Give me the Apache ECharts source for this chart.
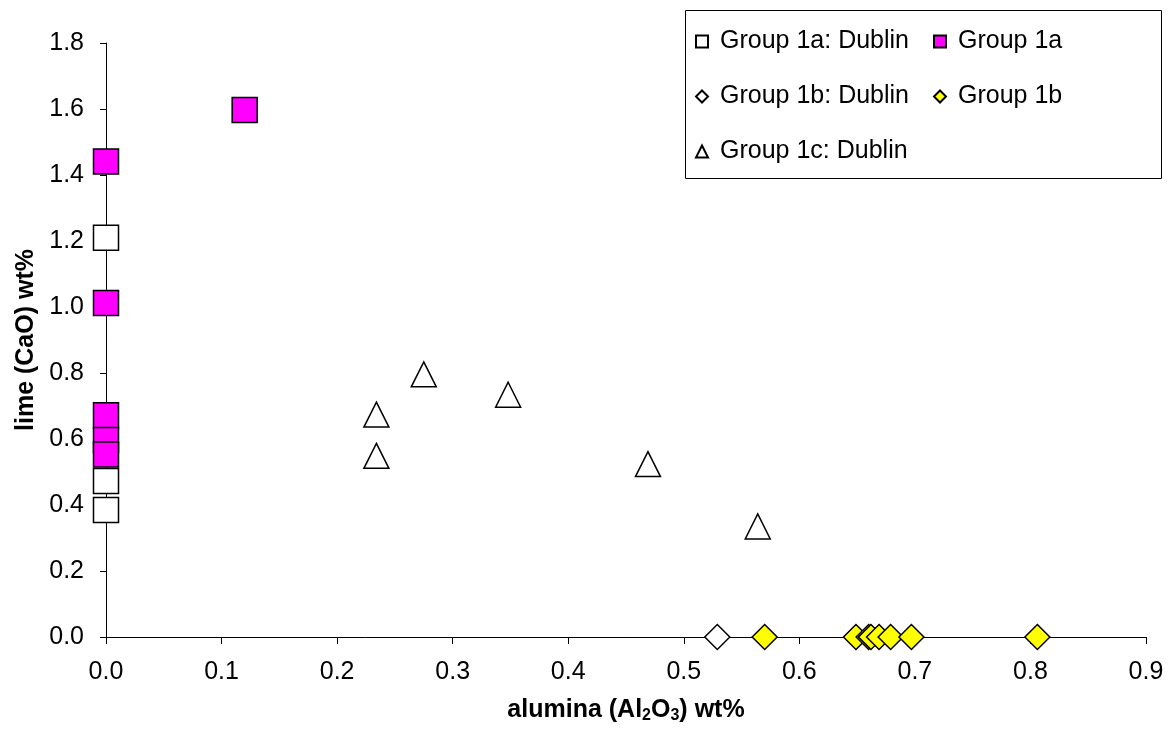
<!DOCTYPE html>
<html>
<head>
<meta charset="utf-8">
<script src="https://cdn.jsdelivr.net/npm/echarts@6/dist/echarts.min.js"></script>
<style>
html,body{margin:0;padding:0;background:#fff;}
#chart{width:1168px;height:729px;}
</style>
</head>
<body>
<div id="chart"></div>
<script>
// Data
const seriesNames = ['Group 1a: Dublin', 'Group 1a', 'Group 1b: Dublin', 'Group 1b', 'Group 1c: Dublin'];
const g1aDublinX = [0, 0, 0];
const g1aDublinY = [1.21, 0.473, 0.385];
const g1aX = [0.12, 0, 0, 0, 0, 0];
const g1aY = [1.597, 1.441, 1.012, 0.672, 0.597, 0.553];
const g1bDublinX = [0.529];
const g1bDublinY = [0];
const g1bX = [0.570, 0.649, 0.660, 0.662, 0.669, 0.679, 0.697, 0.806];
const g1bY = [0, 0, 0, 0, 0, 0, 0, 0];
const g1cDublinX = [0.234, 0.234, 0.275, 0.348, 0.469, 0.564];
const g1cDublinY = [0.549, 0.674, 0.796, 0.734, 0.524, 0.335];
const xTicks = [0, 0.1, 0.2, 0.3, 0.4, 0.5, 0.6, 0.7, 0.8, 0.9];
const yTicks = [0, 0.2, 0.4, 0.6, 0.8, 1.0, 1.2, 1.4, 1.6, 1.8];

const pair = (xs, ys) => xs.map((x, i) => [x, ys[i]]);
const FONT = '"Liberation Sans", Arial, sans-serif';

const chart = echarts.init(document.getElementById('chart'), null, {renderer: 'canvas'});

function mk(name, xs, ys, symbol, fill) {
  return {
    name: name,
    type: 'scatter',
    data: pair(xs, ys),
    symbol: symbol,
    symbolSize: 25,
    itemStyle: {color: fill, borderColor: '#000', borderWidth: 1.5, opacity: 1},
    emphasis: {disabled: true}
  };
}

const legendBase = {
  orient: 'vertical',
  itemWidth: 12,
  itemHeight: 12,
  itemGap: 30,
  textStyle: {fontFamily: FONT, fontSize: 25, color: '#000', padding: [0, 0, 0, 7]},
  selectedMode: false
};

chart.setOption({
  backgroundColor: '#fff',
  animation: false,
  textStyle: {fontFamily: FONT},
  grid: {left: 106, right: 22, top: 43, bottom: 91, containLabel: false},
  xAxis: {
    type: 'value',
    min: xTicks[0], max: xTicks[xTicks.length - 1], interval: 0.1,
    name: 'alumina (Al{sub|2}O{sub|3}) wt%',
    nameLocation: 'middle',
    nameGap: 59,
    nameTextStyle: {
      fontFamily: FONT, fontSize: 25, fontWeight: 'bold', color: '#000',
      rich: {sub: {fontFamily: FONT, fontSize: 16, fontWeight: 'bold', color: '#000', verticalAlign: 'bottom', padding: [12, 0, 0, 0]}}
    },
    axisLine: {lineStyle: {color: '#000', width: 1}},
    axisTick: {show: true, inside: false, length: 7, lineStyle: {color: '#000'}},
    axisLabel: {fontFamily: FONT, fontSize: 25, color: '#000', margin: 23, formatter: v => v.toFixed(1)},
    splitLine: {show: false}
  },
  yAxis: {
    type: 'value',
    min: yTicks[0], max: yTicks[yTicks.length - 1], interval: 0.2,
    name: 'lime (CaO) wt%',
    nameLocation: 'middle',
    nameGap: 54,
    nameTextStyle: {fontFamily: FONT, fontSize: 25, fontWeight: 'bold', color: '#000'},
    axisLine: {show: true, lineStyle: {color: '#000', width: 1}},
    axisTick: {show: true, inside: false, length: 6, lineStyle: {color: '#000'}},
    axisLabel: {fontFamily: FONT, fontSize: 25, color: '#000', margin: 22, formatter: v => v.toFixed(1)},
    splitLine: {show: false}
  },
  legend: [
    Object.assign({}, legendBase, {left: 690, top: 24, data: [seriesNames[0], seriesNames[2], seriesNames[4]]}),
    Object.assign({}, legendBase, {left: 928, top: 24, data: [seriesNames[1], seriesNames[3]]})
  ],
  graphic: [{
    type: 'rect',
    shape: {x: 685.5, y: 10.5, width: 476, height: 168},
    style: {fill: 'rgba(0,0,0,0)', stroke: '#000', lineWidth: 1},
    z: -1
  }],
  series: [
    mk(seriesNames[0], g1aDublinX, g1aDublinY, 'rect', '#ffffff'),
    mk(seriesNames[1], g1aX, g1aY, 'rect', '#ff00ff'),
    mk(seriesNames[2], g1bDublinX, g1bDublinY, 'diamond', '#ffffff'),
    mk(seriesNames[3], g1bX, g1bY, 'diamond', '#ffff00'),
    mk(seriesNames[4], g1cDublinX, g1cDublinY, 'triangle', '#ffffff')
  ]
});
</script>
</body>
</html>
